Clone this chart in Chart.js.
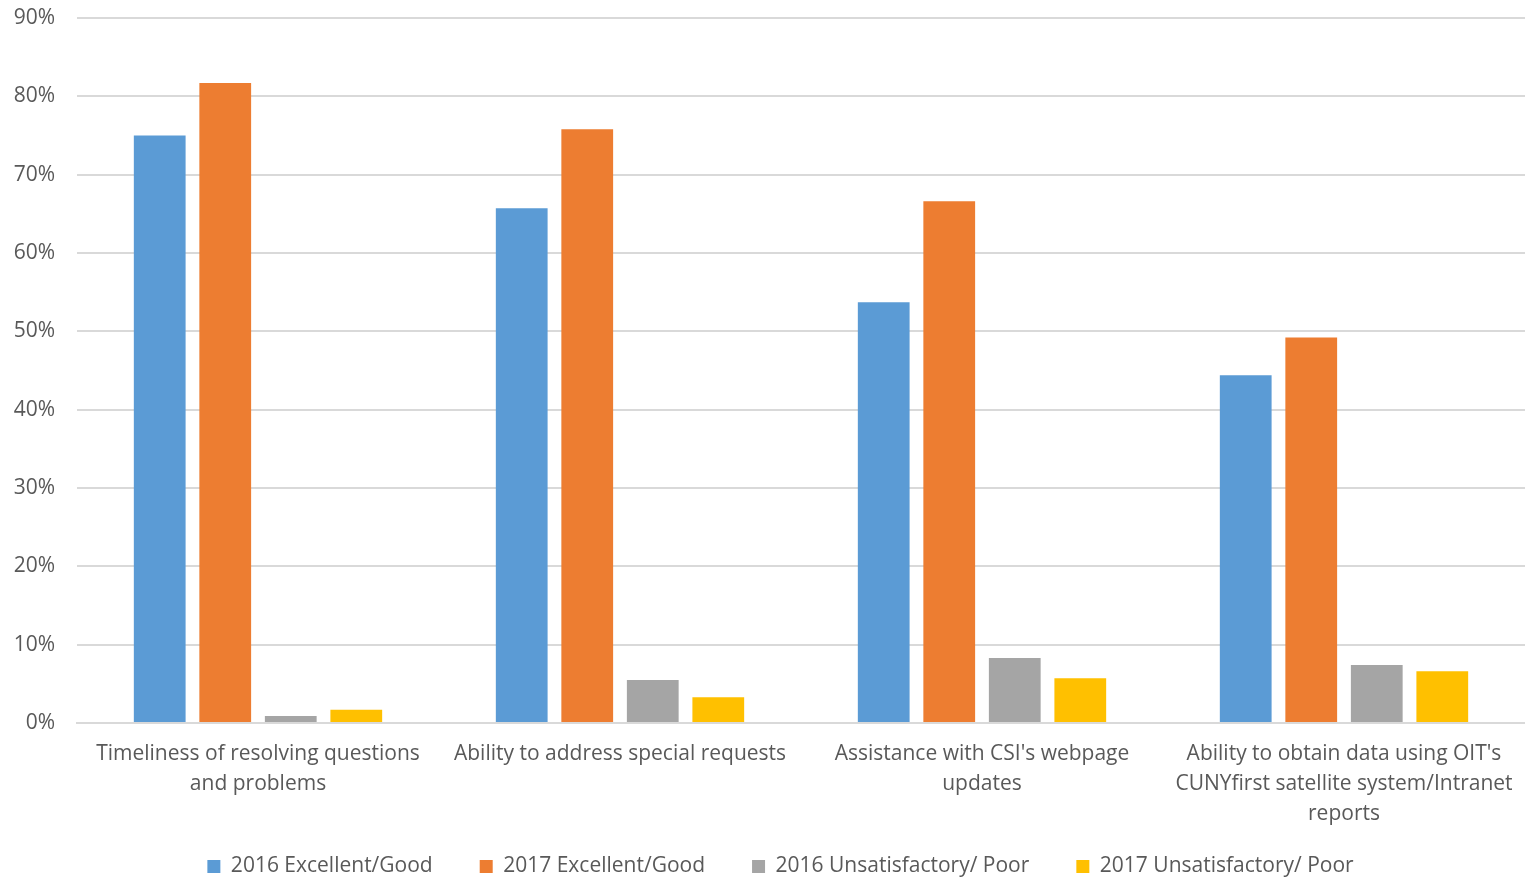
<!DOCTYPE html>
<html>
<head>
<meta charset="utf-8">
<script src="https://cdn.jsdelivr.net/npm/chart.js@4/dist/chart.umd.min.js"></script>
<style>
  html, body { margin: 0; padding: 0; background: #fff; }
  #wrap { width: 1525px; height: 881px; }
</style>
</head>
<body>
<div id="wrap"><canvas id="chart"></canvas></div>
<script>
const categories = [
  ["Timeliness of resolving questions", "and problems"],
  ["Ability to address special requests"],
  ["Assistance with CSI's webpage", "updates"],
  ["Ability to obtain data using OIT's", "CUNYfirst satellite system/Intranet", "reports"]
];
const seriesNames = [
  "2016 Excellent/Good",
  "2017 Excellent/Good",
  "2016 Unsatisfactory/ Poor",
  "2017 Unsatisfactory/ Poor"
];
const excellent2016 = [75.0, 65.7, 53.7, 44.4];
const excellent2017 = [81.7, 75.8, 66.6, 49.2];
const poor2016 = [0.9, 5.5, 8.3, 7.4];
const poor2017 = [1.7, 3.3, 5.7, 6.6];
const colors = ["#5b9bd5", "#ed7d31", "#a5a5a5", "#ffc000"];

const seriesData = [excellent2016, excellent2017, poor2016, poor2017];
const datasets = seriesNames.map((name, i) => ({
  label: name,
  data: seriesData[i],
  backgroundColor: colors[i],
  categoryPercentage: 0.724,
  barPercentage: 0.79
}));

const font = "'Open Sans', sans-serif";
const textColor = "#595959";

// wide gaps between legend items, but a short legend box moved up under the labels
const legendNudge = {
  id: "legendNudge",
  beforeLayout(chart) {
    const legend = chart.legend;
    if (!legend || legend._nudged) return;
    const fit = legend.fit;
    legend.fit = function () {
      fit.call(this);
      this.height = 48;
    };
    legend._nudged = true;
  },
  afterLayout(chart) {
    const legend = chart.legend;
    legend.top -= 24;
    legend.bottom = chart.height;
    legend.left += 18;
    legend.right += 18;
  }
};

new Chart(document.getElementById("chart"), {
  type: "bar",
  data: { labels: categories, datasets: datasets },
  plugins: [legendNudge],
  options: {
    responsive: true,
    maintainAspectRatio: false,
    animation: false,
    layout: { padding: { top: 18, right: 0, left: 0, bottom: 0 } },
    plugins: {
      tooltip: { enabled: false },
      legend: {
        position: "bottom",
        labels: {
          boxWidth: 13,
          boxHeight: 13,
          padding: 47,
          color: textColor,
          font: { family: font, size: 21 }
        }
      }
    },
    scales: {
      x: {
        afterFit: (scale) => {
          scale.height = 110;
          scale.paddingLeft = 0;
          scale.paddingRight = 0;
        },
        grid: { display: false, drawTicks: false },
        border: { color: "#d9d9d9", width: 2 },
        ticks: {
          color: textColor,
          padding: 16,
          maxRotation: 0,
          autoSkip: false,
          font: { family: font, size: 21, lineHeight: 1.42 }
        }
      },
      y: {
        min: 0,
        max: 90,
        afterFit: (scale) => {
          scale.width = 77;
          scale.paddingTop = 0;
          scale.paddingBottom = 0;
        },
        grid: { color: "#d9d9d9", lineWidth: 2, drawTicks: false },
        border: { display: false },
        ticks: {
          stepSize: 10,
          padding: 22,
          color: textColor,
          font: { family: font, size: 21 },
          callback: (v) => v + "%"
        }
      }
    }
  }
});
</script>
</body>
</html>
